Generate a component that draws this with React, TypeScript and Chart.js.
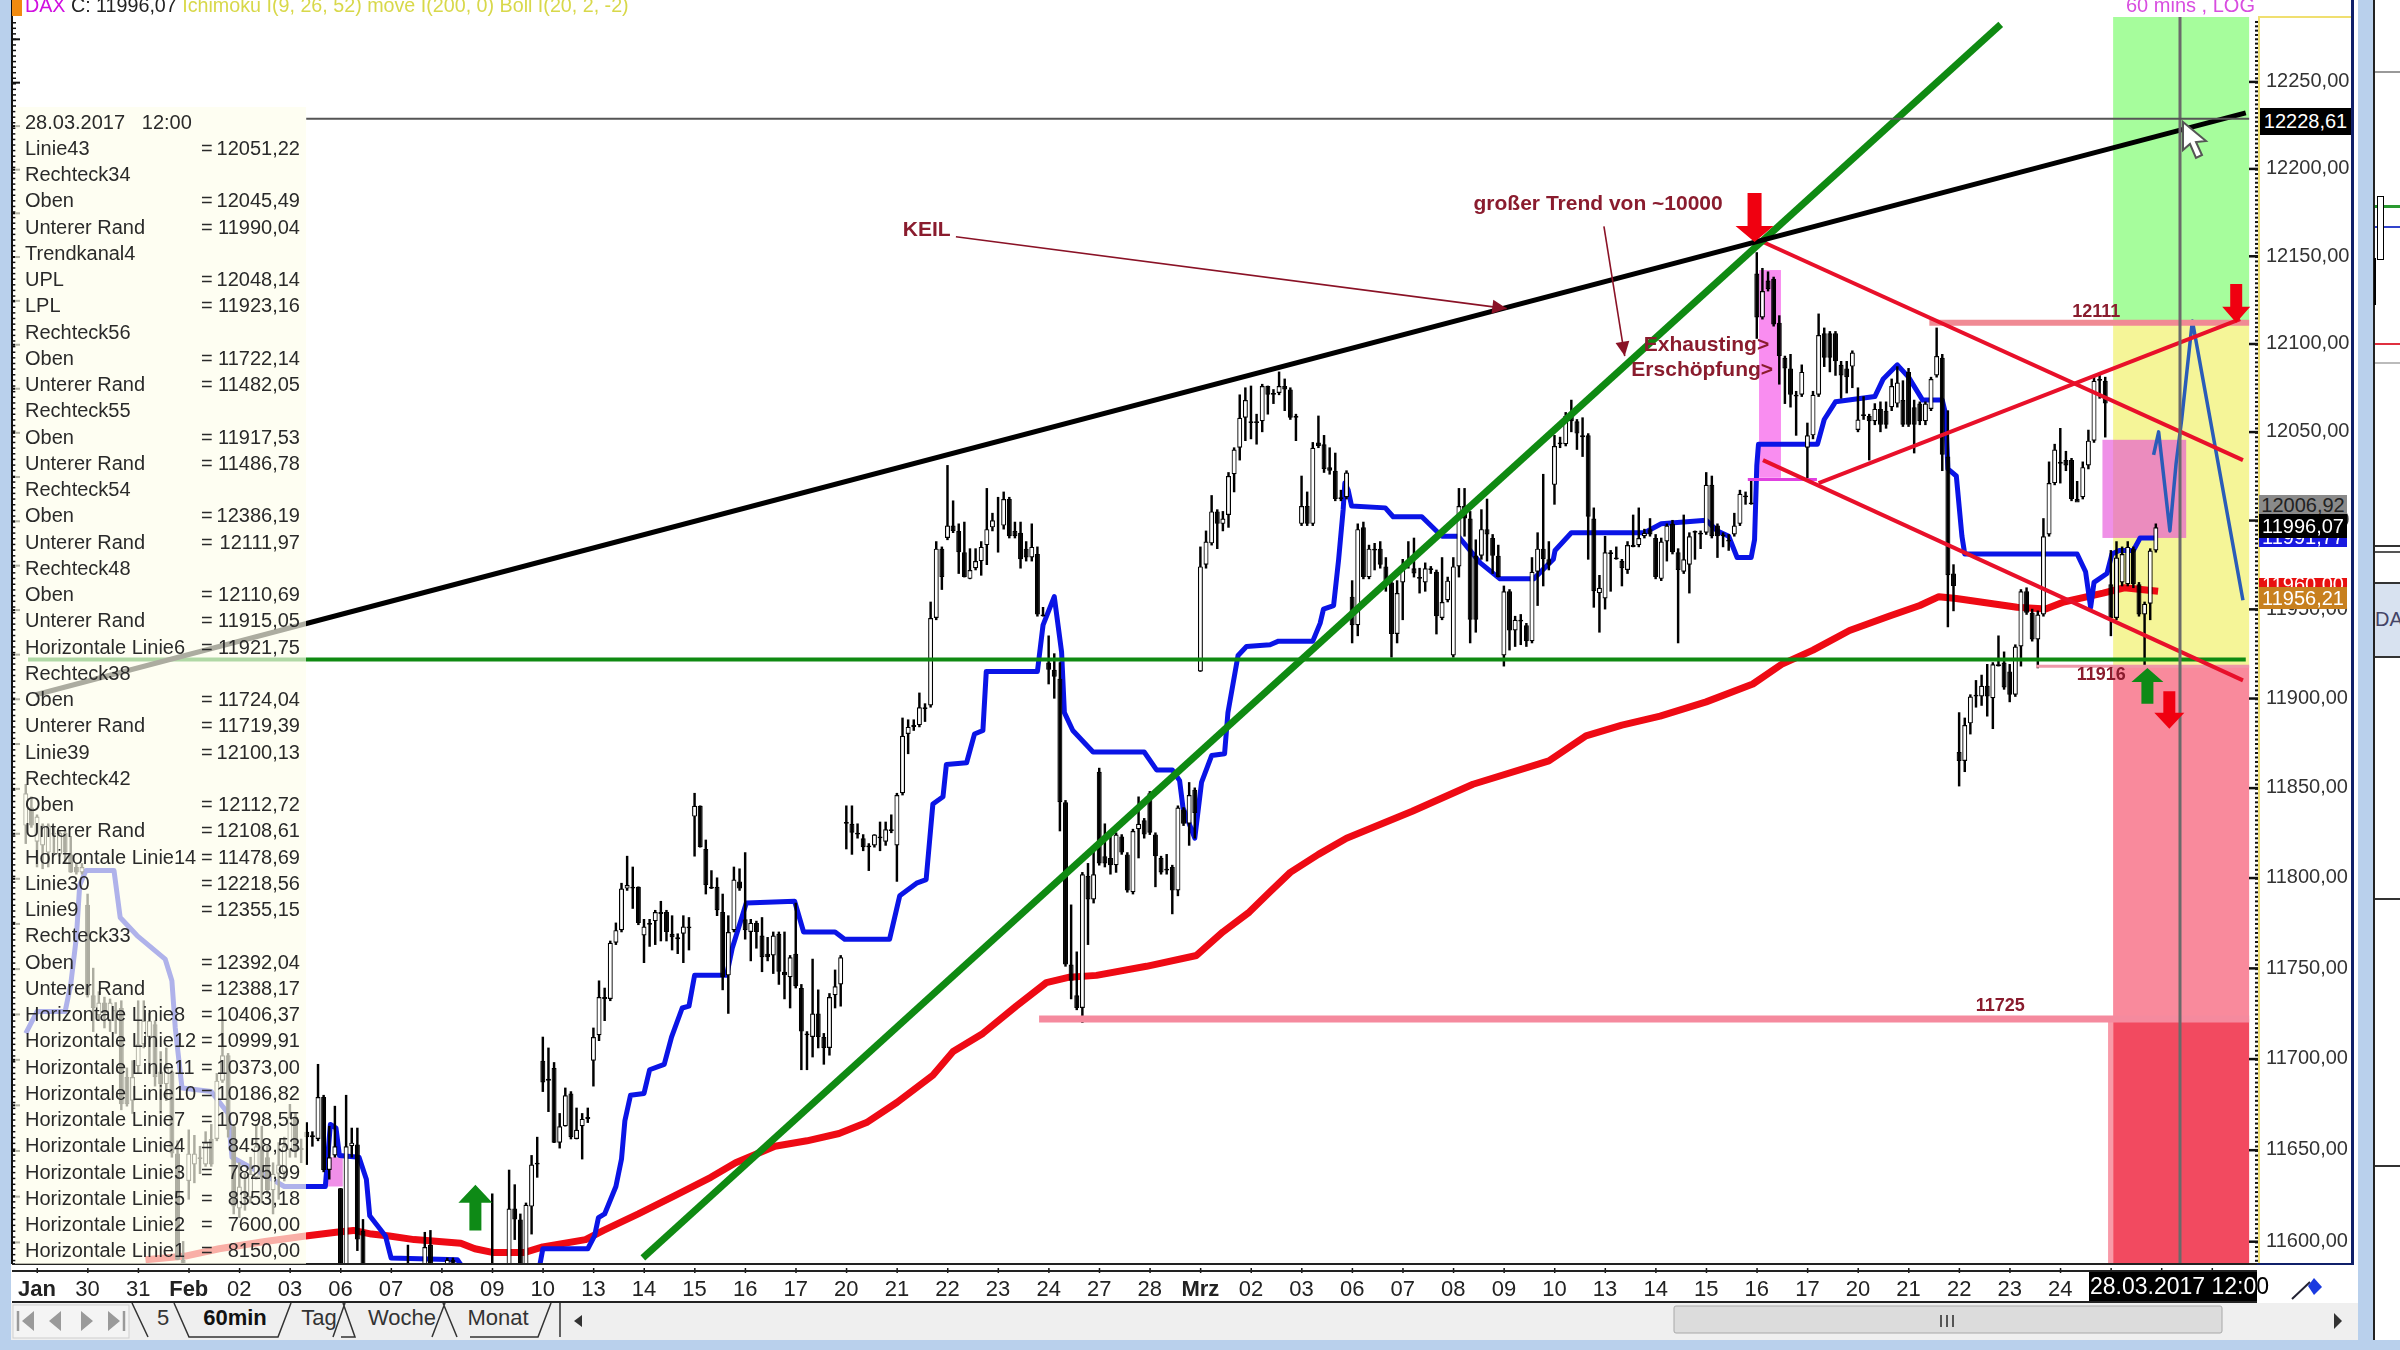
import { useEffect, useRef } from "react";
import { Chart, registerables } from "chart.js";

Chart.register(...registerables);

const FONT = '"Liberation Sans", Arial, sans-serif';

// y axis
const yTicks = [12250, 12200, 12150, 12100, 12050, 12000, 11950, 11900, 11850, 11800, 11750, 11700, 11650, 11600];
const yMin = 11587.7;
const yMax = 12287.3;

// x axis, one tick per trading day, 9 hourly bars a day
const barsPerDay = 9;
const dayLabels = ["Jan", "30", "31", "Feb", "02", "03", "06", "07", "08", "09", "10", "13", "14", "15", "16", "17", "20", "21", "22", "23", "24", "27", "28", "Mrz", "02", "03", "06", "07", "08", "09", "10", "13", "14", "15", "16", "17", "20", "21", "22", "23", "24", "", "", ""];

// candles, each row is open, high, low, close
const janBars = [
  [11829, 11852, 11819, 11847], [11839, 11845, 11828, 11829], [11820, 11835, 11806, 11834], [11818, 11830, 11805, 11829],
  [11814, 11830, 11806, 11829], [11825, 11828, 11813, 11824], [11813, 11826, 11812, 11825], [11825, 11826, 11808, 11814],
  [11813, 11823, 11803, 11803], [11806, 11808, 11802, 11803], [11803, 11808, 11802, 11806], [11785, 11791, 11734, 11735],
  [11735, 11750, 11715, 11728], [11724, 11737, 11721, 11731], [11731, 11734, 11717, 11725], [11721, 11733, 11715, 11731],
  [11727, 11731, 11714, 11726], [11728, 11732, 11672, 11675], [11690, 11695, 11674, 11675], [11677, 11699, 11670, 11690],
  [11696, 11732, 11692, 11708], [11708, 11732, 11706, 11721], [11712, 11725, 11692, 11721], [11719, 11721, 11685, 11690],
  [11693, 11704, 11670, 11686], [11686, 11706, 11677, 11695], [11693, 11694, 11646, 11648], [11648, 11655, 11590, 11590],
  [11590, 11600, 11580, 11585], [11633, 11661, 11623, 11648], [11642, 11658, 11632, 11648], [11646, 11652, 11637, 11645],
  [11642, 11660, 11641, 11654], [11656, 11664, 11641, 11642], [11656, 11692, 11655, 11688], [11688, 11721, 11687, 11702],
  [11702, 11703, 11657, 11661], [11663, 11664, 11615, 11619], [11618, 11643, 11613, 11630], [11627, 11637, 11617, 11626],
  [11624, 11646, 11621, 11637], [11635, 11664, 11634, 11652], [11652, 11663, 11621, 11635], [11646, 11652, 11626, 11628],
  [11628, 11643, 11615, 11637], [11637, 11654, 11623, 11642], [11638, 11657, 11633, 11652], [11650, 11675, 11646, 11668],
  [11668, 11670, 11646, 11650], [11651, 11656, 11643, 11650],
  [11660, 11665, 11642, 11657], [11658, 11660, 11652, 11657], [11656, 11697, 11655, 11679], [11679, 11680, 11638, 11639],
  [11639, 11663, 11634, 11646], [11647, 11674, 11646, 11652], [11629, 11629, 11580, 11580], [11580, 11680, 11580, 11652],
  [11652, 11662, 11646, 11654], [11653, 11662, 11595, 11601], [11606, 11612, 11580, 11580],
];
const febLowBars = [
  [66, 11585, 11598, 11580, 11580], [69, 11585, 11605, 11580, 11597], [70, 11598, 11606, 11580, 11585],
  [73, 11585, 11591, 11580, 11590], [74, 11590, 11591, 11580, 11585], [81, 11585, 11626, 11580, 11583],
];
const febBars = [
  [11585, 11639, 11580, 11618], [11618, 11631, 11601, 11612], [11612, 11615, 11580, 11585], [11585, 11621, 11580, 11620],
  [11619, 11647, 11604, 11642], [11643, 11657, 11635, 11642], [11699, 11712, 11682, 11687], [11689, 11706, 11671, 11688],
  [11695, 11698, 11654, 11654], [11654, 11670, 11651, 11663], [11663, 11684, 11663, 11680], [11681, 11682, 11656, 11657],
  [11656, 11673, 11656, 11661], [11663, 11670, 11645, 11667], [11668, 11673, 11665, 11667], [11699, 11717, 11685, 11712],
  [11713, 11743, 11710, 11734], [11734, 11739, 11721, 11733], [11733, 11765, 11732, 11764], [11764, 11775, 11763, 11771],
  [11771, 11797, 11770, 11794], [11794, 11812, 11793, 11796], [11795, 11806, 11783, 11794], [11795, 11795, 11774, 11775],
  [11768, 11777, 11753, 11773], [11775, 11777, 11762, 11774], [11776, 11782, 11763, 11781], [11781, 11787, 11765, 11780],
  [11781, 11782, 11765, 11770], [11769, 11779, 11760, 11767], [11767, 11769, 11758, 11766], [11769, 11779, 11753, 11773],
  [11773, 11778, 11760, 11772], [11834, 11847, 11812, 11840], [11840, 11840, 11817, 11817], [11816, 11821, 11791, 11796],
  [11795, 11804, 11794, 11794], [11795, 11800, 11779, 11782], [11781, 11791, 11738, 11745], [11746, 11779, 11725, 11770],
  [11771, 11806, 11770, 11799], [11798, 11805, 11793, 11794], [11777, 11814, 11766, 11771], [11770, 11777, 11754, 11775],
  [11775, 11776, 11761, 11770], [11768, 11778, 11748, 11756], [11758, 11767, 11754, 11756], [11757, 11770, 11747, 11768],
  [11769, 11770, 11741, 11748], [11748, 11770, 11733, 11746], [11745, 11757, 11728, 11756], [11758, 11786, 11739, 11740],
  [11739, 11741, 11694, 11715], [11714, 11715, 11694, 11713], [11712, 11755, 11701, 11725], [11725, 11738, 11706, 11712],
  [11712, 11714, 11697, 11706], [11706, 11736, 11702, 11734], [11735, 11749, 11728, 11740], [11741, 11757, 11729, 11756],
  [11831, 11840, 11816, 11830], [11830, 11840, 11813, 11825], [11825, 11830, 11822, 11824], [11822, 11824, 11815, 11817],
  [11818, 11819, 11804, 11817], [11818, 11824, 11817, 11824], [11823, 11831, 11815, 11822], [11820, 11831, 11818, 11827],
  [11827, 11835, 11825, 11826], [11818, 11847, 11798, 11846], [11847, 11889, 11846, 11879], [11880, 11888, 11869, 11884],
  [11885, 11888, 11882, 11884], [11885, 11903, 11884, 11895], [11895, 11897, 11887, 11894], [11896, 11954, 11895, 11945],
  [11945, 11988, 11944, 11984], [11984, 11985, 11961, 11968], [11990, 12031, 11989, 11997], [11997, 12011, 11993, 11994],
  [11994, 11998, 11970, 11982], [11982, 11999, 11968, 11968], [11967, 11984, 11967, 11972], [11973, 11984, 11972, 11977],
  [11977, 11988, 11969, 11985], [11986, 12018, 11975, 11995], [11996, 12004, 11994, 12000], [11996, 12013, 11982, 11996],
  [11997, 12016, 11995, 12012], [12012, 12013, 11990, 11991], [11994, 11999, 11990, 11991], [11993, 11999, 11973, 11978],
  [11984, 11988, 11977, 11979], [11979, 11998, 11977, 11985], [11981, 11985, 11946, 11947], [11947, 11951, 11946, 11946],
  [11920, 11935, 11908, 11916], [11916, 11925, 11900, 11912], [11911, 11920, 11826, 11842], [11842, 11843, 11751, 11752],
  [11752, 11785, 11733, 11743], [11735, 11759, 11727, 11728], [11728, 11803, 11720, 11802], [11801, 11808, 11763, 11788],
  [11788, 11815, 11786, 11802], [11859, 11861, 11807, 11808], [11812, 11830, 11806, 11808], [11811, 11824, 11802, 11807],
  [11807, 11825, 11803, 11824], [11823, 11824, 11813, 11814], [11813, 11814, 11792, 11793], [11792, 11827, 11791, 11826],
  [11827, 11845, 11811, 11830], [11832, 11833, 11822, 11824], [11847, 11848, 11824, 11825], [11824, 11825, 11795, 11812],
  [11811, 11812, 11802, 11803], [11805, 11813, 11802, 11804], [11806, 11807, 11780, 11793], [11793, 11840, 11790, 11839],
  [11838, 11839, 11829, 11830], [11830, 11853, 11818, 11846], [11849, 11850, 11822, 11836],
];
const mrzBars = [
  [11915, 11985, 11915, 11974], [11975, 11994, 11973, 11988], [11987, 12014, 11986, 12005], [12005, 12006, 11984, 11998],
  [11998, 12005, 11994, 12001], [12003, 12027, 11996, 12025], [12026, 12041, 12016, 12040], [12041, 12071, 12034, 12058],
  [12058, 12075, 12045, 12068], [12056, 12076, 12046, 12055], [12056, 12060, 12043, 12055], [12056, 12077, 12050, 12076],
  [12076, 12076, 12060, 12071], [12072, 12074, 12066, 12071], [12072, 12084, 12071, 12076], [12076, 12080, 12062, 12074],
  [12074, 12075, 12057, 12058], [12059, 12060, 12045, 12058], [11998, 12025, 11997, 12008], [12008, 12016, 11997, 11998],
  [11998, 12044, 11997, 12041], [12044, 12059, 12041, 12042], [12043, 12048, 12027, 12029], [12030, 12041, 12026, 12028],
  [12028, 12038, 12011, 12012], [12013, 12017, 12011, 12012], [12013, 12028, 12012, 12027], [11957, 11966, 11931, 11941],
  [11941, 11998, 11935, 11995], [11996, 11999, 11967, 11968], [11968, 11986, 11967, 11984], [11984, 11987, 11972, 11983],
  [11984, 11988, 11973, 11975], [11974, 11979, 11960, 11966], [11965, 11967, 11923, 11936], [11936, 11966, 11931, 11959],
  [11965, 11978, 11944, 11974], [11977, 11988, 11973, 11976], [11973, 11990, 11968, 11970], [11968, 11973, 11959, 11967],
  [11965, 11976, 11960, 11973], [11973, 11974, 11970, 11972], [11971, 11972, 11936, 11946], [11945, 11979, 11944, 11954],
  [11955, 11968, 11954, 11966], [11924, 11979, 11923, 11974], [11974, 12018, 11968, 12008], [12008, 12018, 11991, 12001],
  [12001, 12005, 11931, 11944], [11980, 11989, 11937, 11944], [11980, 12006, 11978, 11995], [11995, 12012, 11977, 11992],
  [11990, 11992, 11970, 11980], [11980, 11986, 11968, 11968], [11924, 11963, 11918, 11960], [11960, 11961, 11927, 11938],
  [11938, 11946, 11929, 11944], [11944, 11947, 11930, 11943], [11941, 11942, 11929, 11932], [11932, 11979, 11931, 11971],
  [11971, 11993, 11952, 11984], [11984, 12026, 11963, 11978], [11978, 11988, 11972, 11975], [12020, 12048, 12009, 12042],
  [12044, 12047, 12041, 12043], [12043, 12061, 12042, 12059], [12059, 12068, 12050, 12056], [12056, 12057, 12040, 12049],
  [12048, 12058, 12036, 12047], [12048, 12049, 11978, 12002], [12001, 12007, 11951, 11960], [11959, 11969, 11937, 11962],
  [11956, 11991, 11950, 11982], [11982, 11983, 11960, 11981], [11979, 11985, 11978, 11978], [11977, 11978, 11963, 11973],
  [11972, 11988, 11970, 11986], [11986, 12003, 11985, 11985], [11986, 12007, 11985, 11990], [11991, 11995, 11990, 11993],
  [11995, 12001, 11991, 11992], [11990, 11992, 11967, 11968], [11967, 11990, 11966, 11988], [11988, 11998, 11977, 11997],
  [11998, 12000, 11981, 11982], [11982, 11984, 11931, 11972],
];
const lateBars = [
  [11971, 12003, 11970, 11978], [11975, 11993, 11959, 11991], [11994, 11994, 11978, 11993], [11993, 11994, 11984, 11992],
  [11993, 12027, 11992, 12020], [12020, 12025, 11990, 11991], [11997, 11998, 11979, 11991], [11992, 11993, 11985, 11991],
  [11989, 11992, 11983, 11988], [11992, 12004, 11991, 11997], [11998, 12017, 11997, 12015], [12014, 12016, 12009, 12013],
  [12010, 12022, 12009, 12009], [12140, 12152, 12103, 12115], [12115, 12143, 12114, 12130], [12136, 12141, 12130, 12131],
  [12137, 12138, 12110, 12111], [12112, 12116, 12077, 12093], [12092, 12093, 12066, 12086], [12086, 12094, 12064, 12071],
  [12071, 12073, 12048, 12070], [12071, 12088, 12070, 12084], [12041, 12055, 12023, 12048], [12048, 12073, 12046, 12071],
  [12071, 12117, 12070, 12105], [12106, 12109, 12087, 12092], [12106, 12107, 12084, 12092], [12106, 12107, 12082, 12090],
  [12088, 12090, 12069, 12082], [12086, 12090, 12072, 12081], [12087, 12096, 12075, 12095], [12051, 12075, 12050, 12057],
  [12060, 12070, 12057, 12059], [12059, 12060, 12034, 12056], [12056, 12066, 12054, 12063], [12063, 12067, 12050, 12054],
  [12062, 12067, 12052, 12054], [12064, 12080, 12062, 12076], [12066, 12087, 12064, 12078], [12068, 12079, 12053, 12054],
  [12084, 12086, 12053, 12054], [12064, 12068, 12038, 12054], [12066, 12067, 12054, 12056], [12056, 12067, 12054, 12066],
  [12063, 12081, 12062, 12080], [12082, 12109, 12081, 12093], [12092, 12094, 12028, 12037], [12036, 12062, 11940, 11969],
  [11970, 11975, 11949, 11963], [11870, 11892, 11851, 11865], [11865, 11889, 11859, 11885], [11886, 11902, 11880, 11901],
  [11902, 11910, 11895, 11901], [11901, 11913, 11896, 11907], [11907, 11919, 11890, 11901], [11900, 11920, 11883, 11919],
  [11919, 11935, 11918, 11918], [11920, 11926, 11905, 11906], [11915, 11919, 11898, 11902], [11902, 11930, 11901, 11929],
  [11929, 11961, 11918, 11960], [11960, 11962, 11947, 11948], [11948, 11950, 11932, 11933], [11933, 11949, 11917, 11947],
  [11947, 12001, 11946, 11991], [11992, 12033, 11991, 12021], [12021, 12043, 12020, 12040], [12033, 12052, 12021, 12032],
  [12034, 12039, 12028, 12031], [12034, 12035, 12011, 12012], [12012, 12022, 12011, 12010], [12013, 12033, 12012, 12030],
  [12031, 12051, 12029, 12045], [12045, 12082, 12044, 12079], [12080, 12082, 12069, 12079], [12079, 12081, 12047, 12066],
  [11964, 11983, 11935, 11945], [11945, 11988, 11944, 11979], [11965, 11985, 11963, 11981], [11964, 11988, 11963, 11985],
  [11984, 11985, 11962, 11964], [11964, 11965, 11946, 11947], [11947, 11954, 11918, 11953], [11953, 11984, 11944, 11983],
  [11983, 11998, 11982, 11996.07],
];

// indicators, each row is bar position, price
const ichimokuLine = [
  [-2, 11714], [0, 11726], [5, 11726], [6, 11741], [7, 11767], [7.6, 11796], [8.7, 11804], [13.7, 11804], [14.8, 11778],
  [17.8, 11768], [22.8, 11755], [24, 11743], [24.6, 11717], [25.8, 11684], [31, 11682], [34, 11670], [34.7, 11646],
  [41.8, 11634], [44, 11630], [51.3, 11630], [52.2, 11664], [53.2, 11662], [53.8, 11647], [57.3, 11646], [58.6, 11634],
  [59.2, 11614], [62, 11603], [63, 11591], [74.8, 11590], [75.7, 11586], [89.4, 11586], [90, 11596], [98, 11596],
  [99.2, 11603], [99.9, 11613], [101, 11615], [103, 11630], [104, 11645], [104.6, 11666], [105.6, 11680], [108, 11681],
  [109, 11694], [111.6, 11697], [112.9, 11712], [114.8, 11728], [116, 11729], [117, 11746], [122.7, 11746], [123.7, 11761],
  [126.2, 11786], [134.8, 11787], [136.4, 11770], [142, 11770], [143.7, 11766], [151.7, 11766], [153.5, 11790], [156.5, 11797],
  [158.2, 11799], [159.4, 11841], [161.2, 11845], [161.8, 11863], [165.4, 11864], [166.8, 11880], [168.3, 11882], [168.9, 11915],
  [178, 11915], [179, 11941], [181, 11957], [182.3, 11926], [182.8, 11892], [184.3, 11882], [187.9, 11870], [197, 11870],
  [199.2, 11860], [202, 11860], [203.3, 11854], [203.9, 11839], [206, 11822], [207.2, 11853], [209, 11868], [211.3, 11869],
  [211.9, 11892], [213.7, 11924], [215.2, 11929], [219.4, 11930], [220.9, 11932], [227, 11932], [228.3, 11942], [228.9, 11950],
  [230.7, 11952], [231.6, 11978], [232.4, 12006], [232.7, 12021], [233.3, 12017], [233.9, 12008], [239.9, 12007], [241.3, 12002],
  [246.4, 12002], [249, 11994], [250, 11991], [252.9, 11991], [256.8, 11976], [260.3, 11967], [266.3, 11967], [269.8, 11978],
  [270.1, 11983], [273, 11993], [286, 11993], [289, 11998], [297, 12000], [299, 11994], [301, 11991], [302.5, 11979],
  [305, 11979], [305.6, 11989], [306, 12031], [306.3, 12043], [316.8, 12043], [318, 12057], [320, 12067], [327, 12070],
  [328.5, 12080], [331, 12088], [333, 12081], [335.5, 12068], [339, 12068], [339.6, 12060], [340, 12029], [341.5, 12025],
  [342.5, 11991], [343, 11981], [363, 11981], [364.5, 11971], [365.4, 11951], [366, 11965], [368.3, 11970], [369.2, 11981],
  [370.5, 11983], [373, 11983], [374.2, 11990], [377, 11990],
];
const movingAverage = [
  [19.3, 11590], [26.4, 11592], [32.4, 11596], [40.6, 11600], [47.8, 11603], [53.2, 11605], [56.3, 11606], [59.5, 11604],
  [62.7, 11603], [67.1, 11601], [75.4, 11599], [77.9, 11596], [81, 11594], [86.8, 11594], [90, 11597], [97.6, 11601],
  [100.8, 11606], [107, 11615], [113.5, 11625], [119.9, 11635], [124.3, 11643], [131.3, 11652], [137, 11655], [142.7, 11659],
  [147.6, 11665], [153, 11676], [159.4, 11691], [163, 11704], [168.3, 11714], [174.2, 11729], [179.6, 11742], [183.7, 11745], [188.5, 11746],
  [197.4, 11751], [206.3, 11757], [211, 11770], [215.7, 11781], [219.3, 11792], [223, 11803], [228, 11813], [233, 11822], [244.7, 11837], [255.5, 11852],
  [269, 11865], [275.6, 11879], [282, 11885], [288.8, 11890], [297, 11898], [305.3, 11908], [310.4, 11919], [316, 11927], [322.5, 11938],
  [329.5, 11946], [335, 11952], [338.4, 11957], [341.5, 11956], [352.3, 11951], [357.4, 11950], [360.6, 11954], [367.6, 11959], [371.4, 11962],
  [377.4, 11960],
];
const forecastPath = [
  [376.6, 12037], [377.5, 12050], [379.5, 11994], [380.6, 12032], [381.6, 12057], [383.5, 12113], [392.5, 11955],
];

// drawn lines, each a pair of bar position, price
const wedgeTop = [[-0.2, 11902], [393, 12232]];
const bigTrend = [[107.8, 11591], [349.4, 12283]];
const channelUpper = [[307.1, 12158], [392.5, 12034]];
const channelLower = [[307.1, 12034], [392.5, 11910]];
const channelRise = [[317, 12021], [392, 12114]];
const supportLine = [[-1.6, 11921.75], [393, 11921.75]];
const crossH = [[47.9, 12228.61], [393.6, 12228.61]];
const crossV = [[381.3, yMax], [381.3, yMin]];
const line12111 = [[336.7, 12112], [393.6, 12112]];
const line11916 = [[355.7, 11918], [393.6, 11918]];
const line11725 = [[178.3, 11722], [393.6, 11722]];
const magentaLine = [[304.4, 12023], [316.7, 12023]];
const keilPointer = [[163.5, 12161], [261.5, 12120]];
const trendPointer = [[278.8, 12167], [282.5, 12093]];

// zones on the right, bar from, bar to, price top, price bottom
const zoneGreen = [369.4, 393.6, yMax, 12112];
const zoneYellow = [369.4, 393.6, 12112, 11918];
const zoneRed = [369.4, 393.6, 11918, 11722];
const zoneDeep = [369.4, 393.6, 11722, yMin];
const zoneDeepEdge = [368.5, 369.4, 11722, yMin];
const boxExhaust = [306.4, 310.3, 12142, 12024];
const boxTarget = [367.5, 382.4, 12045.49, 11990.04];
const boxFeb = [51.6, 54.4, 11646, 11630];

// arrows, bar, tail price, tip price
const arrowEntry = [78, 11606, 11631];
const arrowTop = [305.6, 12186, 12158];
const arrowUpper = [391.3, 12134, 12112];
const arrowLong = [375.5, 11897, 11917];
const arrowShort = [379.4, 11904, 11883];

// labels on the chart, text, bar, price
const noteKeil = ["KEIL", 158.3, 12165];
const noteTrend = ["großer Trend von ~10000", 255.6, 12179.5];
const noteExhaust = ["Exhausting>", 308.2, 12099];
const noteErsch = ["Erschöpfung>", 308.9, 12085];
const note12111 = ["12111", 366.4, 12118];
const note11916 = ["11916", 367.3, 11913];
const note11725 = ["11725", 349.3, 11729];

// data window on the left
const panelNames = ["Linie43", "Rechteck34", "Oben", "Unterer Rand", "Trendkanal4", "UPL", "LPL", "Rechteck56", "Oben", "Unterer Rand", "Rechteck55", "Oben", "Unterer Rand", "Rechteck54", "Oben", "Unterer Rand", "Rechteck48", "Oben", "Unterer Rand", "Horizontale Linie6", "Rechteck38", "Oben", "Unterer Rand", "Linie39", "Rechteck42", "Oben", "Unterer Rand", "Horizontale Linie14", "Linie30", "Linie9", "Rechteck33", "Oben", "Unterer Rand", "Horizontale Linie8", "Horizontale Linie12", "Horizontale Linie11", "Horizontale Linie10", "Horizontale Linie7", "Horizontale Linie4", "Horizontale Linie3", "Horizontale Linie5", "Horizontale Linie2", "Horizontale Linie1"];
const panelValues = ["12051,22", "", "12045,49", "11990,04", "", "12048,14", "11923,16", "", "11722,14", "11482,05", "", "11917,53", "11486,78", "", "12386,19", "12111,97", "", "12110,69", "11915,05", "11921,75", "", "11724,04", "11719,39", "12100,13", "", "12112,72", "12108,61", "11478,69", "12218,56", "12355,15", "", "12392,04", "12388,17", "10406,37", "10999,91", "10373,00", "10186,82", "10798,55", "8458,53", "7825,99", "8353,18", "7600,00", "8150,00"];

const candleRows = [
  ...janBars.map((r, i) => [i - 2, ...r]),
  ...febLowBars,
  ...febBars.map((r, i) => [84 + i, ...r]),
  ...mrzBars.map((r, i) => [207 + i, ...r]),
  ...lateBars.map((r, i) => [293 + i, ...r]),
];

const toPoints = (rows: number[][]) => rows.map(([x, y]) => ({ x, y }));

const lineSet = (rows: number[][], color: string, width: number, order: number) => ({
  type: "line" as const,
  data: toPoints(rows),
  borderColor: color,
  borderWidth: width,
  borderJoinStyle: "round",
  pointRadius: 0,
  tension: 0,
  order,
});

const fillZone = (chart: any, z: number[], color: string) => {
  const { x, y } = chart.scales;
  const left = x.getPixelForValue(z[0]);
  const right = x.getPixelForValue(z[1]);
  const top = y.getPixelForValue(z[2]);
  const bottom = y.getPixelForValue(z[3]);
  chart.ctx.fillStyle = color;
  chart.ctx.fillRect(left, top, right - left, bottom - top);
};

const zonePlugin = {
  id: "zones",
  beforeDatasetsDraw(chart: any) {
    fillZone(chart, zoneGreen, "#a6fd9c");
    fillZone(chart, zoneYellow, "#f5f598");
    fillZone(chart, zoneRed, "#f98a9c");
    fillZone(chart, zoneDeep, "#f24a60");
    fillZone(chart, zoneDeepEdge, "#f99aa8");
    fillZone(chart, boxExhaust, "#f98df0");
    fillZone(chart, boxTarget, "rgba(228,70,215,0.6)");
    fillZone(chart, boxFeb, "#f08fe8");
  },
};

const blockArrow = (chart: any, a: number[], color: string, halfHead: number, halfShaft: number, headLen: number) => {
  const { x, y } = chart.scales;
  const ctx = chart.ctx;
  const cx = x.getPixelForValue(a[0]);
  const tail = y.getPixelForValue(a[1]);
  const tip = y.getPixelForValue(a[2]);
  const dir = tip > tail ? 1 : -1;
  const neck = tip - dir * headLen;
  ctx.fillStyle = color;
  ctx.beginPath();
  ctx.moveTo(cx - halfShaft, tail);
  ctx.lineTo(cx + halfShaft, tail);
  ctx.lineTo(cx + halfShaft, neck);
  ctx.lineTo(cx + halfHead, neck);
  ctx.lineTo(cx, tip);
  ctx.lineTo(cx - halfHead, neck);
  ctx.lineTo(cx - halfShaft, neck);
  ctx.closePath();
  ctx.fill();
};

const pointerHead = (chart: any, rows: number[][]) => {
  const { x, y } = chart.scales;
  const ctx = chart.ctx;
  const x0 = x.getPixelForValue(rows[0][0]);
  const y0 = y.getPixelForValue(rows[0][1]);
  const x1 = x.getPixelForValue(rows[1][0]);
  const y1 = y.getPixelForValue(rows[1][1]);
  const a = Math.atan2(y1 - y0, x1 - x0);
  ctx.fillStyle = "#8a1226";
  ctx.beginPath();
  ctx.moveTo(x1, y1);
  ctx.lineTo(x1 - 16 * Math.cos(a - 0.45), y1 - 16 * Math.sin(a - 0.45));
  ctx.lineTo(x1 - 16 * Math.cos(a + 0.45), y1 - 16 * Math.sin(a + 0.45));
  ctx.closePath();
  ctx.fill();
};

const note = (chart: any, n: any[], align: string, size: number) => {
  const { x, y } = chart.scales;
  const ctx = chart.ctx;
  ctx.font = `bold ${size}px ${FONT}`;
  ctx.fillStyle = "#8a1c2e";
  ctx.textAlign = align;
  ctx.textBaseline = "middle";
  ctx.fillText(n[0], x.getPixelForValue(n[1]), y.getPixelForValue(n[2]));
};

const overlayPlugin = {
  id: "overlay",
  afterDatasetsDraw(chart: any) {
    blockArrow(chart, arrowEntry, "#0e8a16", 17, 6, 18);
    blockArrow(chart, arrowTop, "#f00010", 19, 7, 16);
    blockArrow(chart, arrowUpper, "#f00010", 14, 6, 16);
    blockArrow(chart, arrowLong, "#0e8a16", 16, 6, 14);
    blockArrow(chart, arrowShort, "#f00010", 15, 6, 16);
    pointerHead(chart, keilPointer);
    pointerHead(chart, trendPointer);
    note(chart, noteKeil, "center", 21);
    note(chart, noteTrend, "left", 21);
    note(chart, noteExhaust, "right", 21);
    note(chart, noteErsch, "right", 21);
    note(chart, note12111, "center", 18);
    note(chart, note11916, "center", 18);
    note(chart, note11725, "center", 18);
  },
  afterDraw(chart: any) {
    const { x, y } = chart.scales;
    const chartArea = chart.chartArea;
    const ctx = chart.ctx;
    // axis rulers
    ctx.fillStyle = "#111";
    for (let v = 11590; v < yMax; v += 2.5) {
      ctx.fillRect(chartArea.right - 2, y.getPixelForValue(v), 3, 2);
    }
    for (let v = 11590; v < yMax; v += 3.2) {
      ctx.fillRect(chartArea.left + 1, y.getPixelForValue(v), 3, 1.5);
    }
    for (let v = 11600; v < yMax; v += 25) {
      ctx.fillRect(chartArea.left + 1, y.getPixelForValue(v), 7, 2);
    }
    yTicks.forEach((v) => ctx.fillRect(chartArea.right - 8, y.getPixelForValue(v) - 1, 9, 2.5));
    dayLabels.forEach((_, i) => ctx.fillRect(x.getPixelForValue(i * barsPerDay) - 0.5, chartArea.bottom + 4, 1.5, 5));
    ctx.fillStyle = "#222";
    ctx.fillRect(chartArea.left, chartArea.bottom - 1, chartArea.width, 2);
    ctx.fillRect(chartArea.left, chartArea.bottom + 6, chartArea.width, 2);
    ctx.fillRect(chartArea.left, chartArea.bottom + 37, chartArea.width, 2);
    ctx.fillStyle = "#111";
    ctx.fillRect(chartArea.left - 1, 0, 2, chartArea.bottom);
    ctx.fillStyle = "#f0df70";
    ctx.fillRect(chartArea.right + 1, chartArea.top, 2, chartArea.height);
    ctx.fillRect(chartArea.right + 1, chartArea.top - 1, 94, 2);
  },
};

const wrap: any = { position: "absolute", left: 0, top: 0, width: 2400, height: 1350, overflow: "hidden", background: "#fff", fontFamily: FONT };

const abs = (left: number, top: number, width: number, height: number, background: string): any => ({
  position: "absolute", left, top, width, height, background,
});

const valueBox = (left: number, top: number, height: number, bg: string, color: string, text: string, width = 88) => (
  <div style={{ ...abs(left, top, width, height, bg), color, fontSize: 20, lineHeight: `${height}px`, textAlign: "center", overflow: "hidden" }}>{text}</div>
);

const App = () => {
  const canvasRef = useRef<HTMLCanvasElement | null>(null);

  useEffect(() => {
    if (!canvasRef.current) return;
    const chart = new Chart(canvasRef.current, {
      type: "bar",
      data: {
        datasets: [
          lineSet(movingAverage, "#ee0a14", 7, 30),
          lineSet(ichimokuLine, "#0a14e6", 5, 29),
          {
            data: candleRows.map((r) => ({ x: r[0], y: [r[3], r[2]] })),
            backgroundColor: "#000",
            barThickness: 1.8,
            grouped: false,
            order: 25,
          },
          {
            data: candleRows.map((r) => ({ x: r[0], y: [Math.min(r[1], r[4]), Math.max(r[1], r[4])] })),
            backgroundColor: candleRows.map((r) => (r[4] >= r[1] ? "#fff" : "#000")),
            borderColor: "#000",
            borderWidth: 1.2,
            borderSkipped: false,
            inflateAmount: 0,
            barThickness: 5,
            grouped: false,
            order: 24,
          },
          lineSet(forecastPath, "#2a5cb8", 3.5, 20),
          lineSet(line11725, "#f58a9e", 7, 19),
          lineSet(line12111, "#f08a94", 6, 19),
          lineSet(line11916, "#ee98a8", 3, 19),
          lineSet(magentaLine, "#e040e0", 3, 19),
          lineSet(supportLine, "#0f8a12", 4, 18),
          lineSet(channelUpper, "#e8102a", 4, 17),
          lineSet(channelLower, "#e8102a", 4, 17),
          lineSet(channelRise, "#e8102a", 4, 17),
          lineSet(bigTrend, "#0f8a12", 7, 16),
          lineSet(wedgeTop, "#000", 5, 15),
          lineSet(keilPointer, "#8a1226", 1.6, 14),
          lineSet(trendPointer, "#8a1226", 1.6, 14),
          lineSet(crossH, "#555", 2, 12),
          lineSet(crossV, "#6a6a6a", 3, 12),
        ] as any,
      },
      plugins: [zonePlugin, overlayPlugin],
      options: {
        responsive: false,
        animation: false,
        layout: { padding: { left: 12, top: 17, right: 0, bottom: 0 } },
        plugins: { legend: { display: false }, tooltip: { enabled: false } },
        scales: {
          x: {
            type: "linear",
            min: -4.45,
            max: 395,
            offset: false,
            grid: { display: false },
            border: { display: false },
            afterFit: (s: any) => { s.height = 86; },
            afterBuildTicks: (s: any) => { s.ticks = dayLabels.map((_, i) => ({ value: i * barsPerDay })); },
            ticks: {
              autoSkip: false,
              maxRotation: 0,
              padding: 5,
              color: "#222",
              font: (c: any) => ({ family: FONT, size: 22, weight: /[A-Za-z]/.test(dayLabels[c.index] || "") ? "bold" : "normal" }),
              callback: (_v: any, i: number) => dayLabels[i],
            },
          },
          y: {
            type: "logarithmic",
            position: "right",
            min: yMin,
            max: yMax,
            grid: { display: false },
            border: { display: false },
            afterFit: (s: any) => { s.width = 143; },
            afterBuildTicks: (s: any) => { s.ticks = yTicks.map((value) => ({ value })); },
            ticks: {
              autoSkip: false,
              padding: 1,
              color: "#333",
              font: { family: FONT, size: 20 },
              callback: (v: any) => Number(v).toFixed(2).replace(".", ","),
            },
          },
        },
      } as any,
    });
    return () => chart.destroy();
  }, []);

  return (
    <div style={wrap}>
      <canvas ref={canvasRef} width={2400} height={1350} style={{ position: "absolute", left: 0, top: 0 }} />

      {/* window frame */}
      <div style={abs(0, 0, 11, 1350, "#b9d0ec")} />
      <div style={abs(0, 1340, 2400, 10, "#b9d0ec")} />
      <div style={abs(2351, 0, 3, 1265, "#10206a")} />
      <div style={abs(2257, 1263, 97, 2, "#10206a")} />
      <div style={abs(2358, 0, 15, 1340, "#b9d0ec")} />
      <div style={abs(2373, 0, 2, 1340, "#222")} />
      <div style={abs(2375, 71, 25, 2, "#999")} />
      <div style={abs(2375, 545, 25, 2, "#333")} />
      <div style={abs(2375, 551, 25, 2, "#555")} />
      <div style={abs(2375, 582, 25, 2, "#333")} />
      <div style={{ ...abs(2375, 584, 25, 72, "#d8e2f0"), fontSize: 20, lineHeight: "70px", color: "#446", overflow: "hidden" }}>DA</div>
      <div style={abs(2375, 656, 25, 2, "#333")} />
      <div style={abs(2375, 898, 25, 2, "#333")} />
      <div style={abs(2375, 1165, 25, 2, "#333")} />
      <div style={abs(2375, 205, 25, 3, "#2a9a30")} />
      <div style={abs(2375, 226, 25, 2, "#3344cc")} />
      <div style={abs(2375, 343, 25, 2, "#e03040")} />
      <div style={abs(2375, 362, 25, 2, "#bbb")} />
      <div style={{ ...abs(2377, 196, 5, 62, "#fff"), border: "1px solid #000" }} />
      <div style={abs(2374, 258, 2, 47, "#000")} />

      {/* header */}
      <div style={abs(12, 0, 10, 16, "#f08a10")} />
      <div style={{ position: "absolute", left: 25, top: -7, fontSize: 19.7, lineHeight: "24px", whiteSpace: "pre" }}>
        <span style={{ color: "#d010e0" }}>DAX </span>
        <span style={{ color: "#222" }}>C: 11996,07 </span>
        <span style={{ color: "#d8d84a" }}>Ichimoku I(9, 26, 52) move I(200, 0) Boll I(20, 2, -2)</span>
      </div>
      <div style={{ position: "absolute", left: 2126, top: -7, fontSize: 20, lineHeight: "24px", color: "#d84ee0", whiteSpace: "pre" }}>60 mins , LOG</div>

      {/* data window */}
      <div style={{ ...abs(15, 107, 291, 1157, "rgba(254,254,236,0.68)"), color: "#2a2a2a", fontSize: 20 }}>
        <div style={{ position: "absolute", left: 10, top: 1.5, lineHeight: "26px", whiteSpace: "pre" }}>28.03.2017   12:00</div>
        {panelNames.map((name, i) => (
          <div key={i} style={{ position: "absolute", left: 10, top: 27.75 + i * 26.25, width: 282, height: 26, lineHeight: "26px", whiteSpace: "pre" }}>
            {name}
            {panelValues[i] ? <span style={{ position: "absolute", left: 176 }}>=</span> : null}
            {panelValues[i] ? <span style={{ position: "absolute", right: 7 }}>{panelValues[i]}</span> : null}
          </div>
        ))}
      </div>

      {/* value flags on the price axis */}
      {valueBox(2260, 108, 27, "#000", "#fff", "12228,61", 91)}
      {valueBox(2259, 495, 20, "#8a8a8a", "#222", "12006,92")}
      {valueBox(2259, 527, 20, "#1a1ae0", "#fff", "11991,77")}
      {valueBox(2259, 514, 24, "#000", "#fff", "11996,07")}
      {valueBox(2259, 578, 12, "#e81010", "#fff", "11960,00")}
      {valueBox(2259, 587, 22, "#c8801e", "#fff", "11956,21")}

      {/* cursor box on the time axis, the text runs past the box */}
      <div style={abs(2089, 1272, 168, 29, "#000")} />
      <div style={{ position: "absolute", left: 2090, top: 1272, height: 29, color: "#fff", fontSize: 23, lineHeight: "29px", whiteSpace: "pre", mixBlendMode: "difference" }}>28.03.2017 12:00</div>

      {/* mouse pointer */}
      <svg style={{ position: "absolute", left: 2180, top: 120 }} width="34" height="44">
        <path d="M3 2 L3 30 L10 24 L16 38 L22 35 L16 22 L26 21 Z" fill="#fff" stroke="#555" strokeWidth="2" />
      </svg>

      {/* tab bar and scroll bar */}
      <svg style={{ position: "absolute", left: 0, top: 1303 }} width="2358" height="37">
        <rect x="11" y="0" width="2347" height="37" fill="#efefef" />
        <rect x="13" y="2" width="116" height="33" fill="#f4f4f4" stroke="#cfcfcf" />
        <path d="M34 8 L22 18 L34 28 Z M61 8 L49 18 L61 28 Z M81 8 L93 18 L81 28 Z M108 8 L120 18 L108 28 Z" fill="#9a9a9a" />
        <path d="M18 8 V28 M124 8 V28" stroke="#9a9a9a" strokeWidth="2.5" />
        <path d="M132 0 L148 34 M174 0 L189 34 L278 34 L291 0 M343 0 L355 34 L341 34 M345 0 L333 34 M443 0 L457 34 M445 0 L432 34 M551 0 L538 34 L470 34 M560 0 V34" fill="none" stroke="#333" strokeWidth="1.5" />
        <g fontFamily={FONT} fontSize="22" fill="#333" textAnchor="middle">
          <text x="163" y="22">5</text>
          <text x="235" y="22" fontWeight="bold" fill="#111">60min</text>
          <text x="319" y="22">Tag</text>
          <text x="402" y="22">Woche</text>
          <text x="498" y="22">Monat</text>
        </g>
        <path d="M582 12 L574 18 L582 24 Z M2334 10 L2342 18 L2334 26 Z" fill="#333" />
        <rect x="1674" y="3" width="548" height="27" rx="2" fill="#dcdcdc" stroke="#a8a8a8" />
        <path d="M1941 12 V24 M1947 12 V24 M1953 12 V24" stroke="#555" strokeWidth="2" />
      </svg>
      <svg style={{ position: "absolute", left: 2290, top: 1272 }} width="40" height="30">
        <path d="M2 27 L20 10" stroke="#223" strokeWidth="2" />
        <path d="M18 14 L24 6 L32 15 L24 23 Z" fill="#1a3ae0" />
      </svg>
    </div>
  );
};

export default App;
